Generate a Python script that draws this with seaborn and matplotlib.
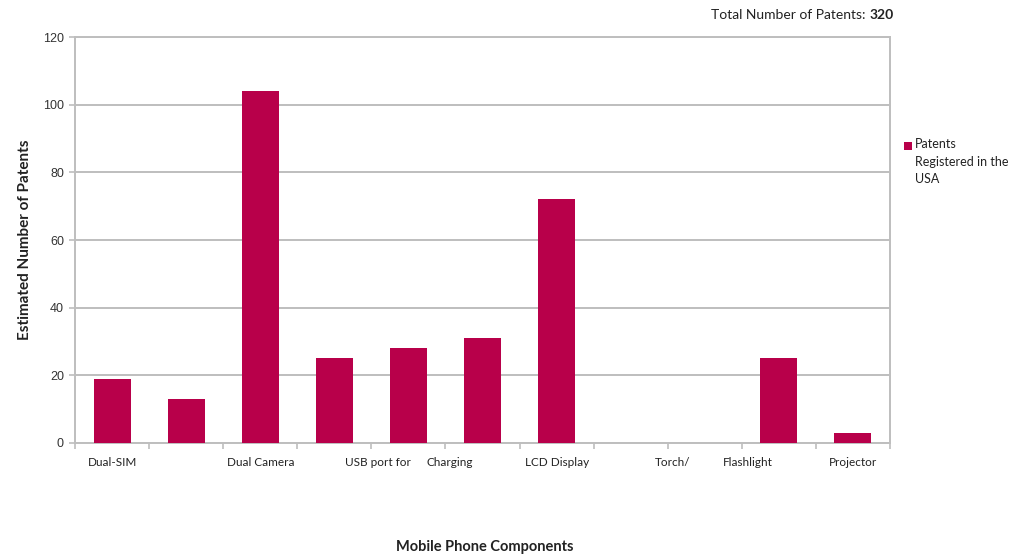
import pandas as pd
import matplotlib.pyplot as plt
import seaborn as sns
from matplotlib.patches import Rectangle
from matplotlib.transforms import blended_transform_factory

plt.switch_backend('Agg')

# data
slots = ["Dual-SIM", "Slot 2", "Dual Camera", "Slot 4", "USB port for", "Charging",
         "LCD Display", "Slot 8", "Torch/", "Flashlight", "Projector"]
patents = [19, 13, 104, 25, 28, 31, 72, 0, 0, 25, 3]
label_text = ["Dual-SIM", "Dual Camera", "USB port for", "Charging", "LCD Display",
              "Torch/", "Flashlight", "Projector"]
label_pos = [0, 2, 3.59, 4.56, 6, 7.56, 8.58, 10]
series_name = "Patents\nRegistered in the\nUSA"
total = sum(patents)

bar_color = "#B8004A"
grid_color = "#BEBEBE"

sns.set_style("white")
plt.rcParams['font.family'] = ['Lato', 'DejaVu Sans']

df = pd.DataFrame({"slot": slots, "patents": patents})

fig = plt.figure(figsize=(10.1, 5.54), dpi=100)
ax = fig.add_axes([0.0743, 0.2004, 0.8069, 0.7326])

sns.barplot(data=df, x="slot", y="patents", order=slots, color=bar_color,
            saturation=1, width=0.5, ax=ax, zorder=3)
for p in ax.patches:
    p.set_edgecolor("none")

ax.set_xlim(-0.5, len(slots) - 0.5)
ax.set_ylim(0, 120)
ax.set_yticks(range(0, 121, 20))
ax.set_yticklabels([str(v) for v in range(0, 121, 20)], family="Liberation Sans",
                   fontsize=9, color="#333333")
ax.yaxis.grid(True, color=grid_color, linewidth=1.4, zorder=0)
ax.set_axisbelow(True)

# category boundary ticks, labels placed where the reference has them
ax.set_xticks([i - 0.5 for i in range(len(slots) + 1)])
ax.set_xticklabels([])
ax.tick_params(axis="x", length=4, color=grid_color, width=1.2, direction="out", bottom=True)
ax.tick_params(axis="y", length=4, color=grid_color, width=1.2, direction="out", left=True, pad=4)
trans = blended_transform_factory(ax.transData, ax.transAxes)
for txt, pos in zip(label_text, label_pos):
    ax.text(pos, -0.047, txt, transform=trans, ha="center", va="center",
            fontsize=8.5, color="#222222")

for side in ["left", "bottom", "right", "top"]:
    ax.spines[side].set_color(grid_color)
    ax.spines[side].set_linewidth(1.4)
ax.set_xlabel("")
ax.set_ylabel("Estimated Number of Patents", fontsize=11, fontweight="bold",
              color="#222222", labelpad=8)

fig.text(0.48, 0.013, "Mobile Phone Components", ha="center", va="center",
         fontsize=10.5, fontweight="bold", color="#222222")

t1 = fig.text(0.704, 0.973, "Total Number of Patents: ", ha="left", va="center",
              fontsize=10, color="#222222")
fig.canvas.draw()
bb = t1.get_window_extent()
x_end = bb.x1 / fig.bbox.width
fig.text(x_end, 0.973, str(total), ha="left", va="center", fontsize=10,
         fontweight="bold", color="#222222")

# legend: small square next to the first line, text block left-aligned
fig.patches.append(Rectangle((904 / 1010, 1 - 150 / 554), 8 / 1010, 8 / 554,
                             transform=fig.transFigure, facecolor=bar_color,
                             edgecolor="none"))
fig.text(0.9055, 1 - 138 / 554, series_name, ha="left", va="top", fontsize=9,
         color="#222222", linespacing=1.55)

fig.savefig("out.png", dpi=100)
